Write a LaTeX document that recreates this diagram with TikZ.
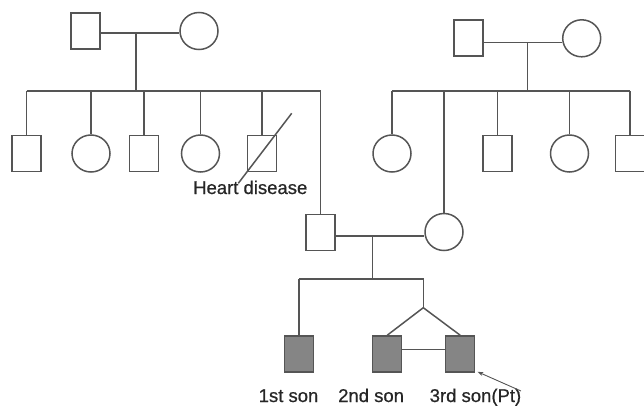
\documentclass[tikz,border=0pt]{standalone}
\usepackage{fontspec}
\setmainfont{Liberation Sans}
\newfontfamily\lblfont[FakeBold=0.7]{Liberation Sans}
\usetikzlibrary{arrows.meta,shapes.geometric}
\definecolor{lineg}{HTML}{555555}
\definecolor{fillg}{HTML}{858585}
\definecolor{txtg}{HTML}{262626}
\begin{document}
\begin{tikzpicture}[x=1pt,y=-1pt,
  male/.style={draw=lineg,line width=1.5pt,rectangle,minimum width=29pt,minimum height=36pt,inner sep=0pt},
  female/.style={draw=lineg,line width=1.5pt,ellipse,minimum width=38pt,minimum height=37pt,inner sep=0pt},
  affected/.style={fill=fillg},
  rel/.style={draw=lineg,line width=1.5pt},
  lbl/.style={text=txtg,font=\lblfont\fontsize{18.5}{20}\selectfont,inner sep=0pt,anchor=base west}]
\useasboundingbox (0,0) rectangle (644,407);
% left grandparents
\node[male] (gf1) at (85.5,31) {};
\node[female] (gm1) at (199,31) {};
\node[male] (lc1) at (26.7,153.5) {};
\node[female] (lc2) at (91,153.5) {};
\node[male] (lc3) at (144,153.5) {};
\node[female] (lc4) at (200.5,153.5) {};
\node[male] (lc5) at (262,153.5) {};
% right grandparents
\node[male] (gf2) at (468.3,38) {};
\node[female] (gm2) at (581.7,38.3) {};
\node[female] (rc1) at (392,153.5) {};
\node[male] (rc2) at (497.5,153.5) {};
\node[female] (rc3) at (569.5,153.5) {};
\node[male] (rc4) at (630,153.5) {};
% parents
\node[male] (fa) at (320.5,232.5) {};
\node[female] (mo) at (444,232) {};
% sons
\node[male,affected] (s1) at (299,354) {};
\node[male,affected] (s2) at (387.2,354) {};
\node[male,affected] (s3) at (460.2,354) {};
% coordinates
\coordinate (l1m) at (136,33);
\coordinate (l1s) at (136,91);
\coordinate (r1m) at (527.3,42.3);
\coordinate (r1s) at (527.3,91);
\coordinate (pm) at (372.3,236);
\coordinate (ps) at (372.3,279);
\coordinate (twin) at (423.3,307.7);
\coordinate (dA) at (238.3,183.3);
\coordinate (dB) at (291.7,113.3);
\coordinate (arr) at (521,391);
% left family lines
\draw[rel] (gf1.east |- l1m) -- (gm1.west |- l1m);
\draw[rel] (l1m) -- (l1s);
\draw[rel] (lc1.north |- l1s) -- (fa.north |- l1s);
\foreach \c in {lc1,lc3,lc5} \draw[rel] (\c.north |- l1s) -- (\c.north);
\foreach \c in {lc2,lc4} \draw[rel] (\c.north |- l1s) -- (\c.north);
\draw[rel] (fa.north |- l1s) -- (fa.north);
\draw[rel] (dA) -- (dB);
% right family lines
\draw[rel] (gf2.east |- r1m) -- (gm2.west |- r1m);
\draw[rel] (r1m) -- (r1s);
\draw[rel] (rc1.north |- r1s) -- (rc4.north |- r1s);
\foreach \c in {rc1,rc2,rc3,rc4} \draw[rel] (\c.north |- r1s) -- (\c.north);
\draw[rel] (mo.north |- r1s) -- (mo.north);
% parents and sons
\draw[rel] (fa.east |- pm) -- (mo.west |- pm);
\draw[rel] (pm) -- (ps);
\draw[rel] (s1.north |- ps) -- (twin |- ps) -- (twin);
\draw[rel] (s1.north |- ps) -- (s1.north);
\draw[rel] (twin) -- (s2.north);
\draw[rel] (twin) -- (s3.north);
\draw[rel] ([yshift=4.3pt]s2.east) -- ([yshift=4.3pt]s3.west);
% labels
\node[lbl] (hd) at (193,194) {Heart disease};
\node[lbl] (t1) at (258.5,402) {1st son};
\node[lbl] (t2) at (338,402) {2nd son};
\node[lbl] (t3) at (429.5,402) {3rd son(Pt)};
\draw[draw=lineg,line width=0.9pt,-{Stealth[length=6pt,width=4pt]}] (arr) -- ([shift={(2pt,1pt)}]s3.south east);
\end{tikzpicture}
\end{document}
